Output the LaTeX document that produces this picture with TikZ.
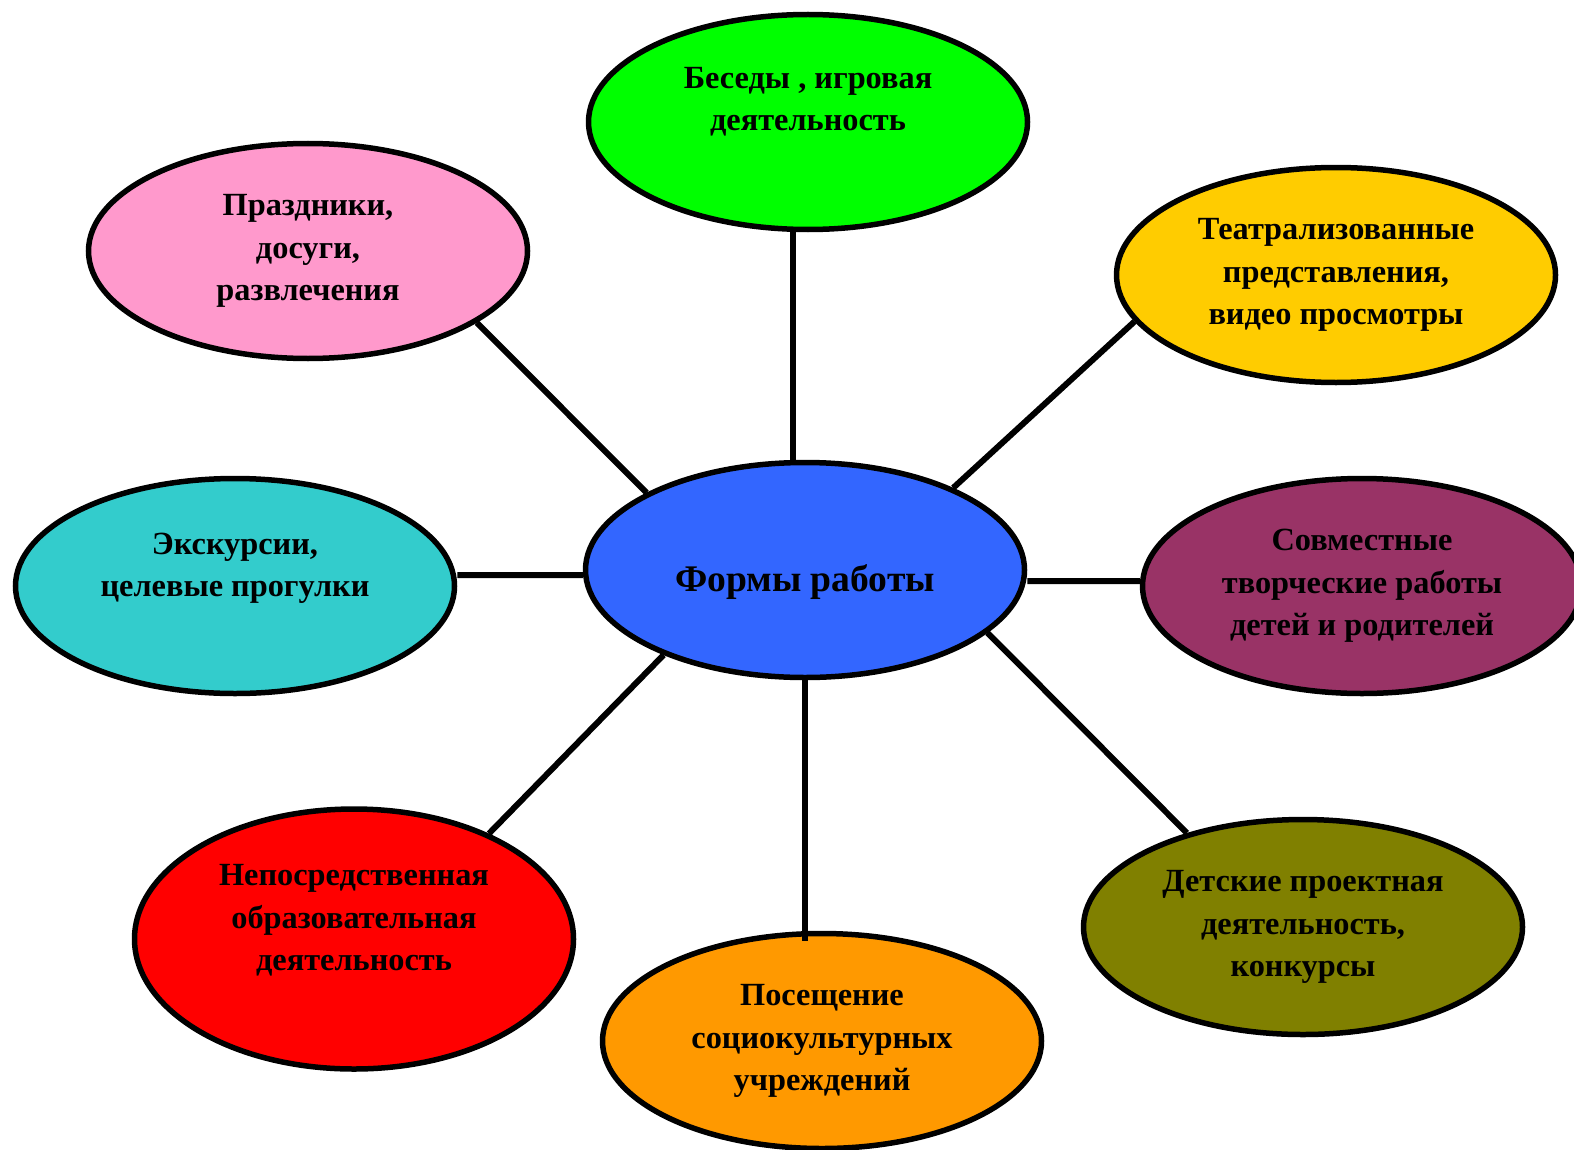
\documentclass[tikz,border=0pt]{standalone}
\usepackage{fontspec}
\setmainfont{Liberation Serif}
\usepackage{tikz}
\usetikzlibrary{shapes.geometric}
\definecolor{talksgreen}{RGB}{0,255,0}
\definecolor{holidayspink}{RGB}{255,153,204}
\definecolor{theatreyellow}{RGB}{255,204,0}
\definecolor{formsblue}{RGB}{51,102,255}
\definecolor{tourscyan}{RGB}{51,204,204}
\definecolor{jointplum}{RGB}{153,51,102}
\definecolor{lessonsred}{RGB}{255,0,0}
\definecolor{projectsolive}{RGB}{128,128,0}
\definecolor{visitsorange}{RGB}{255,153,0}
\begin{document}
\begin{tikzpicture}

%
% Styles
%
\tikzstyle{form} = [ellipse,draw=black,line width=0.055cm,inner sep=0pt,
                    minimum width=4.39cm,minimum height=2.15cm,align=center,
                    font=\fontsize{9.2}{12.1}\selectfont\bfseries]
\tikzstyle{link} = [line width=0.06cm]

\useasboundingbox (0,0) rectangle (15.74,-11.49);

\node[form,fill=talksgreen]    (talks)    at ( 8.08,-1.22) {Беседы , игровая\\деятельность\\[0.04cm] \mbox{}};
\node[form,fill=holidayspink]  (holidays) at ( 3.08,-2.51) {Праздники,\\досуги,\\развлечения};
\node[form,fill=theatreyellow] (theatre)  at (13.36,-2.75) {Театрализованные\\представления,\\видео просмотры};
\node[form,fill=formsblue,font=\fontsize{10.7}{13}\selectfont\bfseries]
                               (forms)    at ( 8.05,-5.70) {\raisebox{-0.12cm}[\height][\depth]{Формы работы}};
\node[form,fill=tourscyan]     (tours)    at ( 2.35,-5.86) {Экскурсии,\\целевые прогулки\\ \mbox{}};
\node[form,fill=jointplum]     (joint)    at (13.62,-5.86) {Совместные\\творческие работы\\детей и родителей};
\node[form,fill=lessonsred,minimum height=2.60cm]
                               (lessons)  at ( 3.54,-9.39) {Непосредственная\\образовательная\\деятельность\\ \mbox{}};
\node[form,fill=projectsolive] (projects) at (13.03,-9.27) {Детские проектная\\деятельность,\\конкурсы};
\node[form,fill=visitsorange]  (visits)   at ( 8.22,-10.41) {Посещение\\социокультурных\\учреждений};

\draw[link] ([xshift=-0.15cm]talks.south) -- ([xshift=-0.12cm]forms.north);
\draw[link] (holidays.-23) -- (forms.154);
\draw[link] (theatre.193) -- (forms.29.5);
\draw[link] ([yshift=0.11cm]tours.east) -- ([yshift=-0.05cm]forms.west);
\draw[link] ([yshift=-0.11cm]forms.east) -- ([yshift=0.05cm]joint.west);
\draw[link] (lessons.38) -- (forms.211);
\draw[link] (forms.-19) -- (projects.141);
\draw[link] (forms.south) -- ([xshift=-0.17cm,yshift=-0.1cm]visits.north);

\end{tikzpicture}
\end{document}
